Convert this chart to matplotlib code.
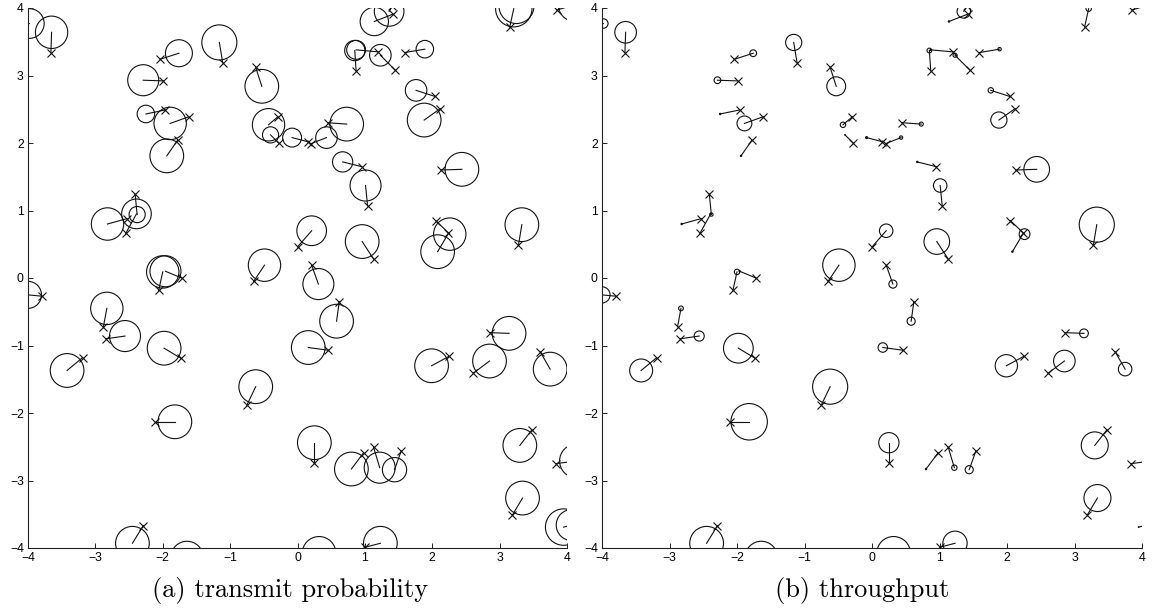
import matplotlib
matplotlib.use("Agg")
import matplotlib.pyplot as plt
from matplotlib.patches import Circle

plt.rcParams['font.family'] = ['Liberation Sans', 'DejaVu Sans']
plt.rcParams['axes.unicode_minus'] = True

# transmitter positions
tx_x = [-4.20, -3.66, -2.04, -1.11, -1.99, -0.62, -1.96, -1.61, -1.78, -0.29,
        -0.28, -2.53, -2.41, -2.55, -2.06, -1.72, -0.65, -3.79, -2.88, -2.84,
        -1.73, -3.19, -0.75, -2.11, -2.29, -1.60,
        1.42, 1.41, 0.87, 1.20, 1.45, 1.59, 2.04, 2.12, 0.45, 0.20,
        0.15, 0.95, 1.04, 2.13, 0.00, 1.13, 2.05, 2.24, 3.28, 3.15,
        3.35, 3.85,
        0.21, 0.62, 0.46, 2.25, 2.86, 2.61, 3.60, 0.25, 0.98, 1.13,
        1.54, 3.48, 3.19, 3.84, 4.25, 4.30, 0.30, 1.00]
tx_y = [3.85, 3.34, 3.24, 3.19, 2.92, 3.12, 2.49, 2.39, 2.04, 2.39,
        2.00, 0.88, 1.24, 0.66, -0.18, 0.00, -0.05, -0.27, -0.72, -0.90,
        -1.19, -1.18, -1.88, -2.13, -3.67, -4.40,
        3.91, 4.03, 3.07, 3.35, 3.08, 3.34, 2.69, 2.51, 2.30, 1.99,
        2.02, 1.65, 1.07, 1.60, 0.46, 0.28, 0.85, 0.66, 0.49, 3.72,
        4.30, 3.97,
        0.19, -0.35, -1.07, -1.16, -0.81, -1.41, -1.09, -2.74, -2.59, -2.51,
        -2.56, -2.25, -3.51, -2.75, -3.62, -3.95, -4.35, -3.99]

# receiver positions
rx_x = [-3.98, -3.65, -1.76, -1.16, -2.29, -0.53, -2.25, -1.89, -1.94, -0.43,
        -0.40, -2.82, -2.38, -2.39, -2.00, -1.96, -0.49, -4.00, -2.83, -2.56,
        -1.98, -3.42, -0.62, -1.82, -2.45, -1.64,
        1.14, 1.36, 0.85, 0.87, 1.23, 1.89, 1.76, 1.88, 0.73, 0.43,
        -0.08, 0.67, 1.01, 2.44, 0.21, 0.96, 2.26, 2.08, 3.33, 3.21,
        3.25, 4.12,
        0.31, 0.58, 0.16, 1.99, 3.14, 2.85, 3.75, 0.25, 0.80, 1.22,
        1.44, 3.30, 3.34, 4.14, 3.95, 4.07, 0.32, 1.23]
rx_y = [3.77, 3.64, 3.33, 3.49, 2.93, 2.84, 2.43, 2.29, 1.81, 2.27,
        2.12, 0.80, 0.94, 0.95, 0.09, 0.10, 0.19, -0.25, -0.45, -0.86,
        -1.04, -1.37, -1.61, -2.13, -3.93, -4.14,
        3.80, 3.95, 3.37, 3.38, 3.30, 3.39, 2.78, 2.34, 2.28, 2.08,
        2.08, 1.72, 1.37, 1.61, 0.70, 0.54, 0.65, 0.39, 0.79, 3.99,
        4.03, 4.05,
        -0.09, -0.64, -1.03, -1.30, -0.82, -1.23, -1.35, -2.44, -2.83, -2.81,
        -2.84, -2.48, -3.26, -2.71, -3.69, -3.66, -4.08, -3.93]

# circle radius at each receiver: transmit probability and throughput
prob_radius = [0.22, 0.24, 0.20, 0.26, 0.23, 0.25, 0.13, 0.24, 0.25, 0.24,
               0.12, 0.24, 0.12, 0.22, 0.24, 0.23, 0.24, 0.20, 0.24, 0.23,
               0.25, 0.25, 0.25, 0.25, 0.25, 0.24,
               0.21, 0.22, 0.15, 0.14, 0.16, 0.13, 0.16, 0.25, 0.25, 0.16,
               0.14, 0.15, 0.23, 0.25, 0.22, 0.25, 0.24, 0.25, 0.25, 0.27,
               0.26, 0.25,
               0.23, 0.25, 0.25, 0.25, 0.25, 0.25, 0.25, 0.25, 0.25, 0.23,
               0.18, 0.25, 0.25, 0.25, 0.27, 0.23, 0.25, 0.25]
thr_radius = [0.07, 0.16, 0.05, 0.12, 0.05, 0.14, 0.01, 0.11, 0.01, 0.04,
              0.005, 0.01, 0.025, 0.005, 0.04, 0.01, 0.24, 0.12, 0.035, 0.075,
              0.22, 0.17, 0.26, 0.27, 0.25, 0.24,
              0.01, 0.10, 0.035, 0.01, 0.03, 0.025, 0.04, 0.12, 0.03, 0.025,
              0.015, 0.01, 0.10, 0.19, 0.10, 0.19, 0.08, 0.01, 0.26, 0.04,
              0.02, 0.02,
              0.06, 0.06, 0.07, 0.165, 0.065, 0.16, 0.10, 0.15, 0.01, 0.04,
              0.06, 0.20, 0.20, 0.01, 0.005, 0.005, 0.25, 0.18]

captions = ['(a) transmit probability', '(b) throughput']
caption_x = [290 / 1157, 862.5 / 1157]
ticks = [-4, -3, -2, -1, 0, 1, 2, 3, 4]

LW = 0.8
COL = '#111111'


def draw_links(ax, radius):
    for i in range(len(tx_x)):
        ax.plot([tx_x[i], rx_x[i]], [tx_y[i], rx_y[i]], '-', color=COL, lw=LW)
        ax.plot(tx_x[i], tx_y[i], 'x', color=COL, ms=5.5, mew=0.8)
        ax.add_patch(Circle((rx_x[i], rx_y[i]), radius[i], fill=False,
                            edgecolor=COL, lw=LW))


fig = plt.figure(figsize=(11.57, 6.13), dpi=100)
axes = [fig.add_axes([28 / 1157, 1 - 548 / 613, 539 / 1157, 540 / 613]),
        fig.add_axes([602 / 1157, 1 - 548 / 613, 540 / 1157, 540 / 613])]

for ax, radius, cap, cx in zip(axes, [prob_radius, thr_radius], captions, caption_x):
    draw_links(ax, radius)
    ax.set_xlim(-4, 4)
    ax.set_ylim(-4, 4)
    ax.set_xticks(ticks)
    ax.set_yticks(ticks)
    ax.spines['top'].set_visible(False)
    ax.spines['right'].set_visible(False)
    for s in ['left', 'bottom']:
        ax.spines[s].set_linewidth(0.8)
        ax.spines[s].set_color('#222222')
    ax.tick_params(direction='in', length=3.5, width=0.7, labelsize=8.8, pad=3,
                   colors='#222222', labelcolor='black')
    fig.text(cx, 1 - 590 / 613, cap, family='cmr10', fontsize=19,
             ha='center', va='center')

fig.savefig('out.png', dpi=100)
